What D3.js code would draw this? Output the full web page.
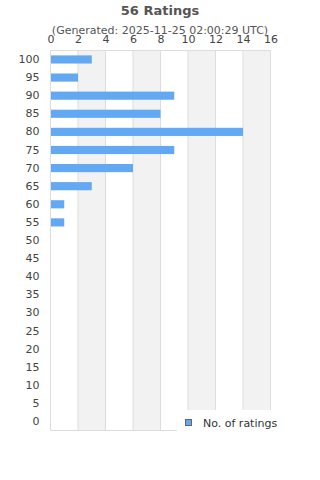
<!DOCTYPE html>
<html lang="en">
  <head>
    <meta charset="utf-8">
    <title>56 Ratings</title>
    <script src="https://d3js.org/d3.v7.js"></script>
    <style>
      body { margin: 0; background: #fff; }
      text { font-family: "DejaVu Sans", Sans-Serif; }
    </style>
  </head>
  <body>
    <script>
    var w = 320;
    var h = 480;

    // data
    var ratings = [100, 95, 90, 85, 80, 75, 70, 65, 60, 55, 50, 45, 40, 35, 30, 25, 20, 15, 10, 5, 0];
    var counts  = [3, 2, 9, 8, 14, 9, 6, 3, 1, 1, 0, 0, 0, 0, 0, 0, 0, 0, 0, 0, 0];
    var xTicks  = [0, 2, 4, 6, 8, 10, 12, 14, 16];
    var seriesName = "No. of ratings";
    var titleText = "56 Ratings";
    var subtitleText = "(Generated: 2025-11-25 02:00:29 UTC)";

    // plot box (note: "top" is reserved on window, so use other names)
    var plotL = 50.5, plotR = 270.5, plotT = 50.5, plotB = 430.5;

    var xScale = d3.scaleLinear()
      .domain([0, 16])
      .range([plotL, plotR]);

    var yScale = d3.scaleBand()
      .domain(ratings)
      .range([plotT, plotB])
      .paddingInner(0.55)
      .paddingOuter(0.27);

    var svg = d3.select("body")
      .append("svg")
      .attr("width", w)
      .attr("height", h);

    // alternating bands
    svg.selectAll("rect.band")
      .data(d3.range(0, 16, 2))
      .enter()
      .append("rect")
      .attr("class", "band")
      .attr("x", d => xScale(d))
      .attr("y", plotT)
      .attr("width", d => xScale(d + 2) - xScale(d))
      .attr("height", plotB - plotT)
      .attr("fill", d => (d / 2) % 2 ? "#f2f2f2" : "#fff");

    // grid lines
    svg.selectAll("line.grid")
      .data(xTicks)
      .enter()
      .append("line")
      .attr("class", "grid")
      .attr("x1", d => xScale(d))
      .attr("x2", d => xScale(d))
      .attr("y1", plotT)
      .attr("y2", plotB)
      .attr("stroke", "#ddd")
      .attr("stroke-width", 1);

    svg.append("line")
      .attr("x1", plotL).attr("x2", plotR)
      .attr("y1", plotT).attr("y2", plotT)
      .attr("stroke", "#ddd");
    svg.append("line")
      .attr("x1", plotL).attr("x2", plotR)
      .attr("y1", plotB).attr("y2", plotB)
      .attr("stroke", "#ddd");

    // bars
    svg.selectAll("rect.bar")
      .data(ratings)
      .enter()
      .append("rect")
      .attr("class", "bar")
      .attr("x", xScale(0) + 0.5)
      .attr("y", d => yScale(d))
      .attr("width", (d, i) => Math.max(0, xScale(counts[i]) - xScale(0) - 0.5))
      .attr("height", yScale.bandwidth())
      .attr("fill", "#63a8f3");

    // top axis
    var xAxis = d3.axisTop(xScale).tickValues(xTicks).tickSize(0).tickPadding(8);
    svg.append("g")
      .attr("id", "xaxis")
      .attr("transform", "translate(0," + plotT + ")")
      .call(xAxis)
      .call(g => g.select(".domain").remove())
      .selectAll("text")
      .attr("font-size", 11)
      .attr("fill", "#444");

    // left axis
    var yAxis = d3.axisLeft(yScale).tickSize(0).tickPadding(11);
    svg.append("g")
      .attr("id", "yaxis")
      .attr("transform", "translate(" + plotL + ",0)")
      .call(yAxis)
      .call(g => g.select(".domain").remove())
      .selectAll("text")
      .attr("font-size", 11)
      .attr("fill", "#444");

    // titles
    svg.append("text")
      .attr("x", w / 2)
      .attr("y", 15)
      .attr("text-anchor", "middle")
      .attr("font-size", 13)
      .attr("font-weight", "bold")
      .attr("fill", "#555")
      .text(titleText);

    svg.append("text")
      .attr("x", w / 2)
      .attr("y", 34)
      .attr("text-anchor", "middle")
      .attr("font-size", 11)
      .attr("fill", "#555")
      .text(subtitleText);

    // legend
    var legend = svg.append("g");
    legend.append("rect")
      .attr("x", 177)
      .attr("y", 410)
      .attr("width", 120)
      .attr("height", 28)
      .attr("fill", "#fff");
    legend.append("rect")
      .attr("x", 185.5)
      .attr("y", 419.5)
      .attr("width", 6)
      .attr("height", 6)
      .attr("fill", "#63a8f3")
      .attr("stroke", "#666")
      .attr("stroke-width", 1);
    legend.append("text")
      .attr("x", 203)
      .attr("y", 426.5)
      .attr("font-size", 11)
      .attr("fill", "#333")
      .text(seriesName);
    </script>
  </body>
</html>
